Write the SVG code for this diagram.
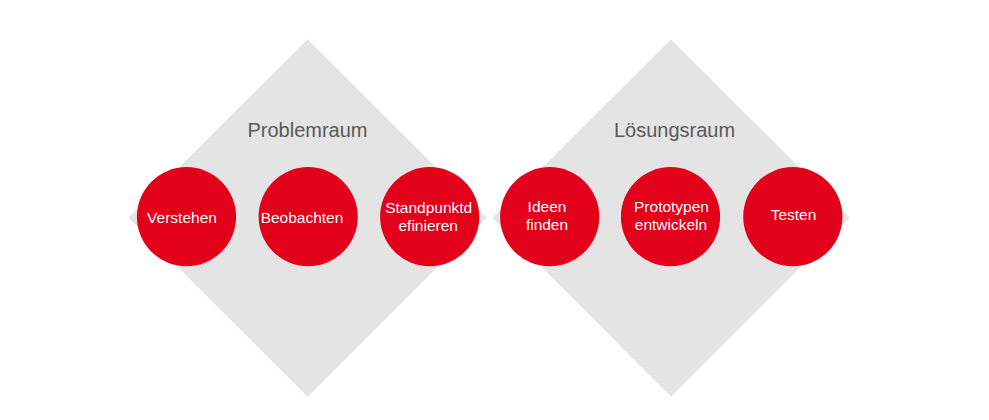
<svg xmlns="http://www.w3.org/2000/svg" width="989" height="420" viewBox="0 0 989 420">
<style>
.bg{fill:#ffffff}
.dia{fill:#e4e4e4}
.circ{fill:#e2001a}
.title{font-family:"Liberation Sans",Arial,sans-serif;font-size:20px;fill:#595959;text-anchor:middle}
.lbl{font-family:"Liberation Sans",Arial,sans-serif;font-size:15.5px;fill:#ffffff;text-anchor:middle}
</style>
<rect class="bg" x="0" y="0" width="989" height="420"/>
<g id="problemraum">
<polygon class="dia" points="307.7,39.3 486.7,217.7 307.7,396.7 128.3,217.7"/>
<text class="title" x="307.5" y="137">Problemraum</text>
</g>
<g id="loesungsraum">
<polygon class="dia" points="671,39.3 850,217.7 671,396.7 492.3,217.7"/>
<text class="title" x="674.5" y="136.5">Lösungsraum</text>
</g>
<g id="connectors"></g>
<g id="verstehen">
<circle class="circ" cx="186.5" cy="216.7" r="49.6"/>
<text class="lbl" x="182" y="222.5">Verstehen</text>
</g>
<g id="beobachten">
<circle class="circ" cx="308.2" cy="216.7" r="49.6"/>
<text class="lbl" x="302" y="222.5">Beobachten</text>
</g>
<g id="standpunkt">
<circle class="circ" cx="429.7" cy="216.7" r="49.6"/>
<text class="lbl" x="428.7" y="212.5">Standpunktd</text>
<text class="lbl" x="428.2" y="231">efinieren</text>
</g>
<g id="ideen">
<circle class="circ" cx="549.7" cy="216.7" r="49.6"/>
<text class="lbl" x="547" y="211.5">Ideen</text>
<text class="lbl" x="547" y="230">finden</text>
</g>
<g id="prototypen">
<circle class="circ" cx="670.5" cy="216.7" r="49.6"/>
<text class="lbl" x="671.5" y="211.5">Prototypen</text>
<text class="lbl" x="671" y="230">entwickeln</text>
</g>
<g id="testen">
<circle class="circ" cx="792.8" cy="216.7" r="49.6"/>
<text class="lbl" x="793.5" y="220">Testen</text>
</g>
</svg>
